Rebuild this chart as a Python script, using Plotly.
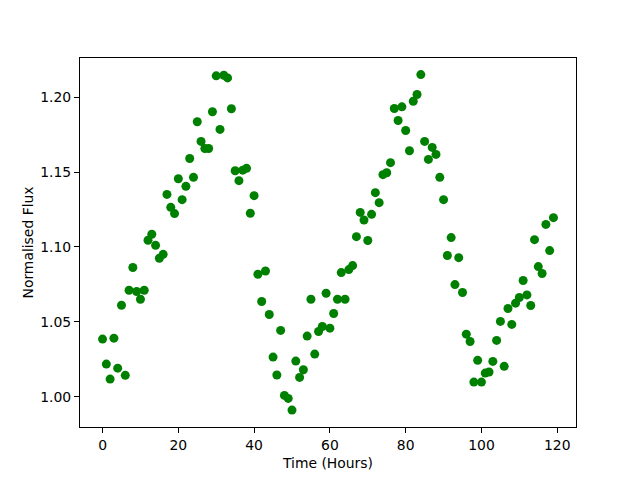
import plotly.graph_objects as go

hours = list(range(120))
flux = [
    1.0385, 1.0218, 1.0118, 1.0391, 1.0191, 1.0611, 1.0143, 1.0711, 1.0863, 1.0703,
    1.0651, 1.0711, 1.1045, 1.1085, 1.1011, 1.0925, 1.0951, 1.1351, 1.1265, 1.1223,
    1.1456, 1.1316, 1.1405, 1.1591, 1.1465, 1.1836, 1.1705, 1.1658, 1.1658, 1.1903,
    1.2143, 1.1785, 1.2147, 1.2129, 1.1923, 1.1509, 1.1443, 1.1513, 1.1525, 1.1225,
    1.1343, 1.0818, 1.0636, 1.0840, 1.0549, 1.0265, 1.0145, 1.0443, 1.0009, 0.9989,
    0.9911, 1.0238, 1.0129, 1.0180, 1.0405, 1.0651, 1.0285, 1.0436, 1.0469, 1.0691,
    1.0458, 1.0556, 1.0651, 1.0829, 1.0651, 1.0849, 1.0876, 1.1069, 1.1231, 1.1180,
    1.1043, 1.1218, 1.1363, 1.1296, 1.1483, 1.1496, 1.1563, 1.1925, 1.1845, 1.1936,
    1.1778, 1.1643, 1.1973, 1.2018, 1.2151, 1.1705, 1.1585, 1.1665, 1.1618, 1.1465,
    1.1316, 1.0943, 1.1063, 1.0749, 1.0929, 1.0696, 1.0418, 1.0369, 1.0098, 1.0243,
    1.0098, 1.0158, 1.0165, 1.0236, 1.0376, 1.0503, 1.0203, 1.0589, 1.0483, 1.0625,
    1.0663, 1.0776, 1.0680, 1.0609, 1.1049, 1.0869, 1.0823, 1.1151, 1.0976, 1.1196,
]
x_ticks = [0, 20, 40, 60, 80, 100, 120]
y_ticks = [1.00, 1.05, 1.10, 1.15, 1.20]

fig = go.Figure()
fig.add_trace(go.Scatter(
    x=hours, y=flux, mode="markers",
    marker=dict(color="#008000", size=9, line=dict(width=0)),
    showlegend=False,
))

font = dict(family="DejaVu Sans", size=13.9, color="black")
axis_common = dict(
    showline=True, linecolor="black", linewidth=1, mirror=True,
    ticks="outside", ticklen=5, tickwidth=1, tickcolor="black",
    showgrid=False, zeroline=False, tickfont=font,
)
fig.update_layout(
    width=640, height=480, autosize=False,
    margin=dict(l=80, r=64, t=58, b=53, pad=0),
    paper_bgcolor="white", plot_bgcolor="white",
    font=font,
    xaxis=dict(range=[-5.95, 124.95], tickvals=x_ticks,
               title=dict(text="Time (Hours)", font=font, standoff=6), **axis_common),
    yaxis=dict(range=[0.9798, 1.2262], tickvals=y_ticks, tickformat=".2f",
               title=dict(text="Normalised Flux", font=font, standoff=3), **axis_common),
)
fig.write_html("out.html", config={"displayModeBar": False},
               post_script="document.body.style.margin='0';")
